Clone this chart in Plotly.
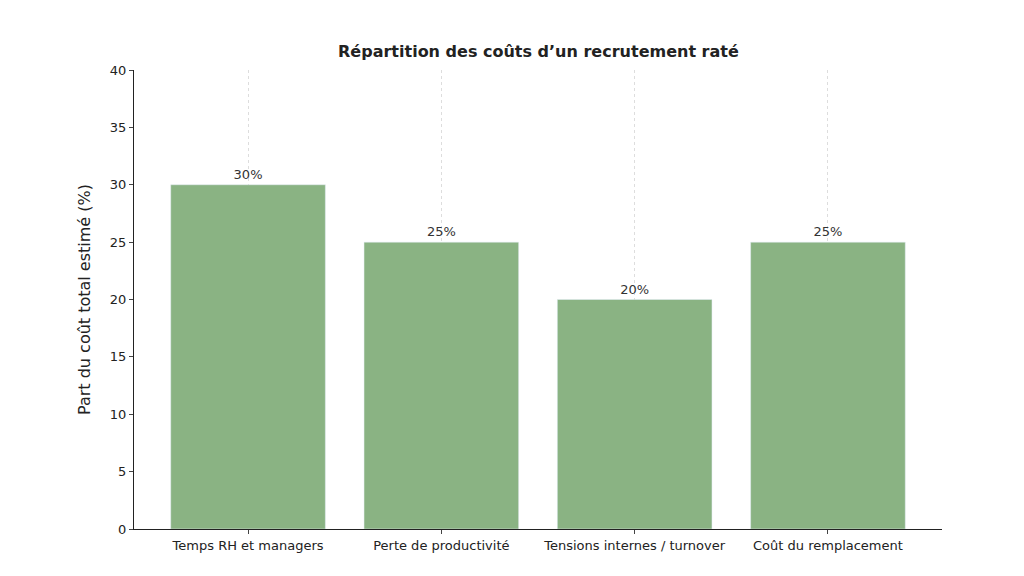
import plotly.graph_objects as go

categories = ["Temps RH et managers", "Perte de productivité",
              "Tensions internes / turnover", "Coût du remplacement"]
values = [30, 25, 20, 25]
labels = ["30%", "25%", "20%", "25%"]

fig = go.Figure(go.Bar(
    x=categories, y=values, text=labels, textposition="outside",
    textfont=dict(size=13, color="#333"), cliponaxis=False,
    marker=dict(color="#8ab383"), width=0.8
))

fig.update_layout(
    width=1024, height=576, plot_bgcolor="white", paper_bgcolor="white",
    font=dict(family="DejaVu Sans", size=13, color="#222"),
    title=dict(text="<b>Répartition des coûts d’un recrutement raté</b>",
               x=0.518, xanchor="center", y=0.935, font=dict(size=16)),
    margin=dict(l=126, r=90, t=62, b=55),
    showlegend=False,
    xaxis=dict(showline=True, linecolor="#222", ticks="outside", ticklen=4,
               showgrid=True, gridcolor="#ddd", griddash="dot",
               range=[-0.59, 3.59]),
    yaxis=dict(title=dict(text="Part du coût total estimé (%)"),
               range=[0, 40], dtick=5, showline=True, linecolor="#222",
               ticks="outside", ticklen=4, showgrid=False, zeroline=False),
)

fig.write_html("out.html")
